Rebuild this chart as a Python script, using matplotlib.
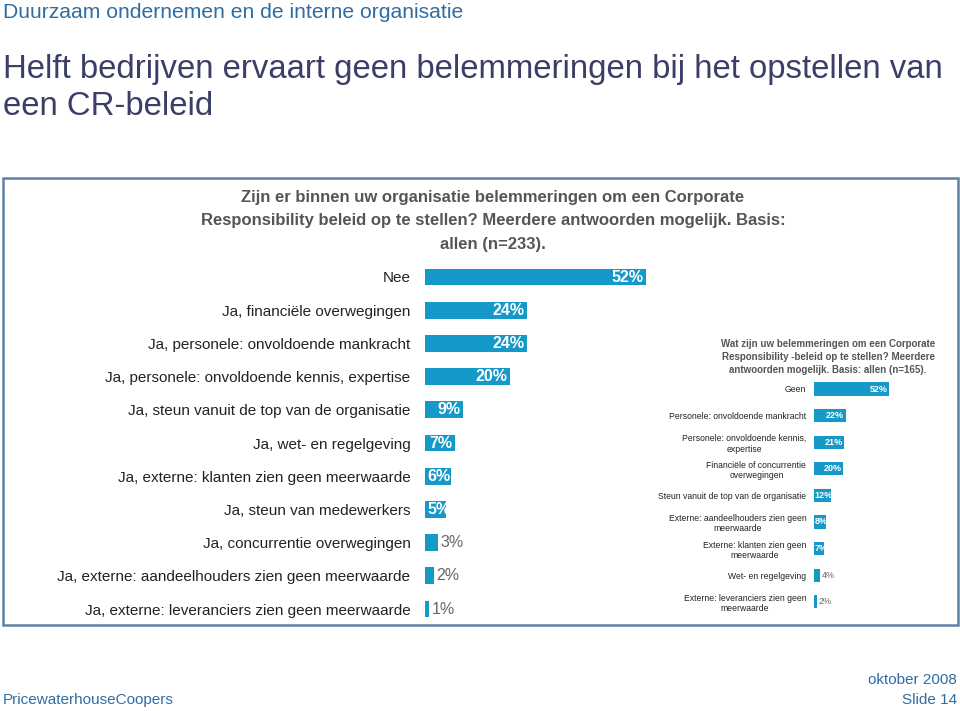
import matplotlib
matplotlib.use("Agg")
import matplotlib.pyplot as plt
from matplotlib.patches import Rectangle

plt.rcParams['font.family'] = ['Liberation Sans', 'DejaVu Sans']

# ---- data ----
main_categories = [
    "Nee",
    "Ja, financiële overwegingen",
    "Ja, personele: onvoldoende mankracht",
    "Ja, personele: onvoldoende kennis, expertise",
    "Ja, steun vanuit de top van de organisatie",
    "Ja, wet- en regelgeving",
    "Ja, externe: klanten zien geen meerwaarde",
    "Ja, steun van medewerkers",
    "Ja, concurrentie overwegingen",
    "Ja, externe: aandeelhouders zien geen meerwaarde",
    "Ja, externe: leveranciers zien geen meerwaarde",
]
main_values = [52, 24, 24, 20, 9, 7, 6, 5, 3, 2, 1]

inset_categories = [
    "Geen",
    "Personele: onvoldoende mankracht",
    "Personele: onvoldoende kennis,\nexpertise",
    "Financiële of concurrentie\noverwegingen",
    "Steun vanuit de top van de organisatie",
    "Externe: aandeelhouders zien geen\nmeerwaarde",
    "Externe: klanten zien geen\nmeerwaarde",
    "Wet- en regelgeving",
    "Externe: leveranciers zien geen\nmeerwaarde",
]
inset_values = [52, 22, 21, 20, 12, 8, 7, 4, 2]

main_title = ("Zijn er binnen uw organisatie belemmeringen om een Corporate\n"
              "Responsibility beleid op te stellen? Meerdere antwoorden mogelijk. Basis:\n"
              "allen (n=233).")
inset_title = ("Wat zijn uw belemmeringen om een Corporate\n"
               "Responsibility -beleid op te stellen? Meerdere\n"
               "antwoorden mogelijk. Basis: allen (n=165).")

BAR = '#1499C8'
GRAY = '#555555'
BLUE = '#2E6DA4'
W, H = 960, 711

fig = plt.figure(figsize=(9.6, 7.11), dpi=100)

def px_axes(x0, y0, x1, y1):
    return fig.add_axes([x0 / W, 1 - y1 / H, (x1 - x0) / W, (y1 - y0) / H])

def ftext(x, y, s, **kw):
    fig.text(x / W, 1 - y / H, s, **kw)

# header texts
ftext(3, 12, "Duurzaam ondernemen en de interne organisatie", fontsize=15.2,
      color=BLUE, ha='left', va='center')
ftext(3, 88, "Helft bedrijven ervaart geen belemmeringen bij het opstellen van\neen CR-beleid",
      fontsize=23.7, color='#3B3F68', ha='left', va='center', linespacing=1.28)

# box
fig.patches.append(Rectangle((3 / W, 1 - 625 / H), 955 / W, 447 / H,
                             transform=fig.transFigure, fill=False,
                             edgecolor='#5F81A8', linewidth=1.8))

ftext(493, 221, main_title, fontsize=12, color=GRAY, fontweight='bold',
      ha='center', va='center', linespacing=1.68)

# main chart
n = len(main_values)
sp = 33.2
ax = px_axes(425, 277 - sp / 2, 646, 277 - sp / 2 + n * sp)
ypos = list(range(n))
ax.barh(ypos, main_values, height=0.51, color=BAR)
ax.set_xlim(0, 52)
ax.set_ylim(n - 0.5, -0.5)
ax.set_yticks(ypos)
ax.set_yticklabels(main_categories, fontsize=11, color='#222222')
ax.tick_params(axis='y', length=0, pad=10.5)
ax.set_xticks([])
for s in ax.spines.values():
    s.set_visible(False)
ax.patch.set_alpha(0)
for i, v in enumerate(main_values):
    if v >= 7:
        ax.text(v - 0.6, i, f"{v}%", color='white', fontweight='bold',
                fontsize=11.5, ha='right', va='center')
    elif v >= 5:
        ax.text(0.6, i, f"{v}%", color='white', fontweight='bold',
                fontsize=11.5, ha='left', va='center')
    else:
        ax.text(v + 0.6, i, f"{v}%", color='#666666',
                fontsize=11.5, ha='left', va='center')

# inset chart
ftext(828, 357, inset_title, fontsize=7, color=GRAY, fontweight='bold',
      ha='center', va='center', linespacing=1.35)
m = len(inset_values)
sp2 = 26.6
ax2 = px_axes(814, 389 - sp2 / 2, 889, 389 - sp2 / 2 + m * sp2)
yp2 = list(range(m))
ax2.barh(yp2, inset_values, height=0.5, color=BAR)
ax2.set_xlim(0, 52)
ax2.set_ylim(m - 0.5, -0.5)
ax2.set_yticks(yp2)
ax2.set_yticklabels(inset_categories, fontsize=6.2, color='#222222')
for lbl in ax2.get_yticklabels():
    lbl.set_multialignment('center')
ax2.tick_params(axis='y', length=0, pad=5.5)
ax2.set_xticks([])
for s in ax2.spines.values():
    s.set_visible(False)
ax2.patch.set_alpha(0)
for i, v in enumerate(inset_values):
    if v >= 20:
        ax2.text(v - 1.0, i, f"{v}%", color='white', fontweight='bold',
                 fontsize=6.5, ha='right', va='center')
    elif v >= 7:
        ax2.text(0.5, i, f"{v}%", color='white', fontweight='bold',
                 fontsize=6.5, ha='left', va='center')
    else:
        ax2.text(v + 1.5, i, f"{v}%", color='#666666',
                 fontsize=6.5, ha='left', va='center')

# footer
ftext(3, 700, "PricewaterhouseCoopers", fontsize=11, color=BLUE, ha='left', va='center')
ftext(957, 680, "oktober 2008", fontsize=11, color=BLUE, ha='right', va='center')
ftext(957, 700, "Slide 14", fontsize=11, color=BLUE, ha='right', va='center')

fig.savefig("out.png", dpi=100)
